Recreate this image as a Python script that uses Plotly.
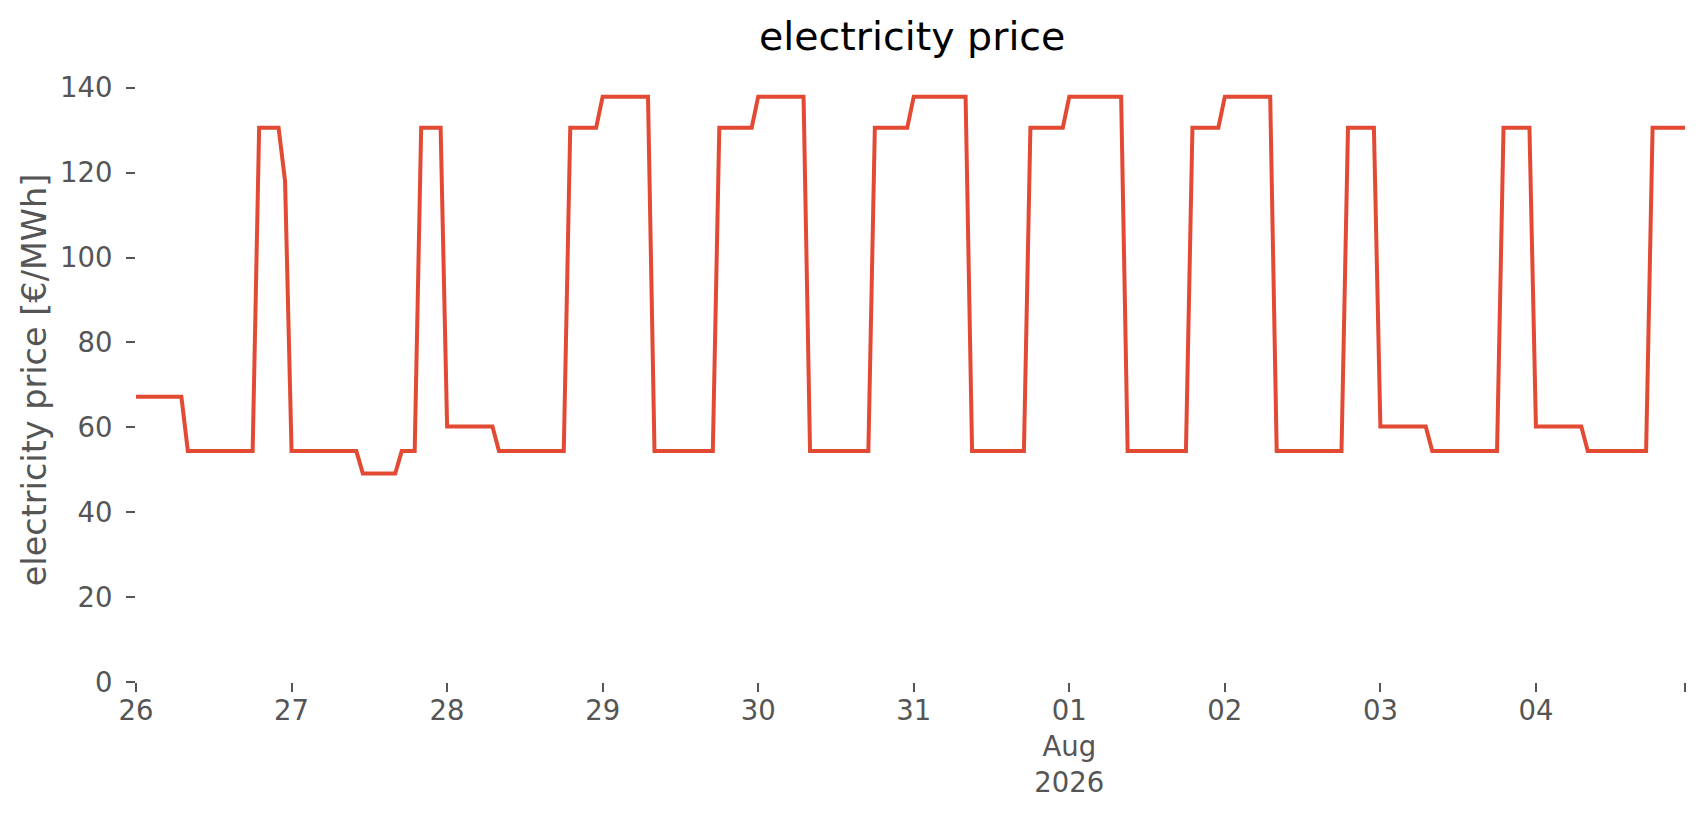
import pandas as pd
import plotly.graph_objects as go

# hourly electricity price [€/MWh], one list per day (hours 0..23)
jul26 = [67.2, 67.2, 67.2, 67.2, 67.2, 67.2, 67.2, 67.2,
         54.4, 54.4, 54.4, 54.4, 54.4, 54.4, 54.4, 54.4, 54.4, 54.4, 54.4,
         130.6, 130.6, 130.6, 130.6, 118.0]
jul27 = [54.4, 54.4, 54.4, 54.4, 54.4, 54.4, 54.4, 54.4, 54.4, 54.4, 54.4,
         49.1, 49.1, 49.1, 49.1, 49.1, 49.1,
         54.4, 54.4, 54.4,
         130.6, 130.6, 130.6, 130.6]
jul28 = [60.2, 60.2, 60.2, 60.2, 60.2, 60.2, 60.2, 60.2,
         54.4, 54.4, 54.4, 54.4, 54.4, 54.4, 54.4, 54.4, 54.4, 54.4, 54.4,
         130.6, 130.6, 130.6, 130.6, 130.6]
jul29 = [137.9, 137.9, 137.9, 137.9, 137.9, 137.9, 137.9, 137.9,
         54.4, 54.4, 54.4, 54.4, 54.4, 54.4, 54.4, 54.4, 54.4, 54.4,
         130.6, 130.6, 130.6, 130.6, 130.6, 130.6]
jul30 = [137.9, 137.9, 137.9, 137.9, 137.9, 137.9, 137.9, 137.9,
         54.4, 54.4, 54.4, 54.4, 54.4, 54.4, 54.4, 54.4, 54.4, 54.4,
         130.6, 130.6, 130.6, 130.6, 130.6, 130.6]
jul31 = [137.9, 137.9, 137.9, 137.9, 137.9, 137.9, 137.9, 137.9, 137.9,
         54.4, 54.4, 54.4, 54.4, 54.4, 54.4, 54.4, 54.4, 54.4,
         130.6, 130.6, 130.6, 130.6, 130.6, 130.6]
aug01 = [137.9, 137.9, 137.9, 137.9, 137.9, 137.9, 137.9, 137.9, 137.9,
         54.4, 54.4, 54.4, 54.4, 54.4, 54.4, 54.4, 54.4, 54.4, 54.4,
         130.6, 130.6, 130.6, 130.6, 130.6]
aug02 = [137.9, 137.9, 137.9, 137.9, 137.9, 137.9, 137.9, 137.9,
         54.4, 54.4, 54.4, 54.4, 54.4, 54.4, 54.4, 54.4, 54.4, 54.4, 54.4,
         130.6, 130.6, 130.6, 130.6, 130.6]
aug03 = [60.2, 60.2, 60.2, 60.2, 60.2, 60.2, 60.2, 60.2,
         54.4, 54.4, 54.4, 54.4, 54.4, 54.4, 54.4, 54.4, 54.4, 54.4, 54.4,
         130.6, 130.6, 130.6, 130.6, 130.6]
aug04 = [60.2, 60.2, 60.2, 60.2, 60.2, 60.2, 60.2, 60.2,
         54.4, 54.4, 54.4, 54.4, 54.4, 54.4, 54.4, 54.4, 54.4, 54.4,
         130.6, 130.6, 130.6, 130.6, 130.6, 130.6]

days = ["2026-07-26", "2026-07-27", "2026-07-28", "2026-07-29", "2026-07-30",
        "2026-07-31", "2026-08-01", "2026-08-02", "2026-08-03", "2026-08-04"]
day_labels = ["26", "27", "28", "29", "30", "31", "01<br>Aug<br>2026", "02", "03", "04"]
y_ticks = [0, 20, 40, 60, 80, 100, 120, 140]

price = jul26 + jul27 + jul28 + jul29 + jul30 + jul31 + aug01 + aug02 + aug03 + aug04
time = pd.date_range(days[0], periods=len(price), freq="h")

tickvals = list(pd.to_datetime(days)) + [time[-1]]
ticktext = day_labels + [""]

fig = go.Figure()
fig.add_trace(go.Scatter(x=time, y=price, mode="lines",
                         line=dict(color="#E24A33", width=4), showlegend=False))

fig.update_layout(
    width=1706, height=815,
    paper_bgcolor="white", plot_bgcolor="white",
    margin=dict(l=128, r=29, t=70, b=141),
    font=dict(family="DejaVu Sans", color="#555555", size=27),
    title=dict(text="electricity price", x=0.530, xanchor="center", y=0.966, yanchor="middle",
               font=dict(size=39.5, color="black", family="DejaVu Sans")),
)
fig.update_xaxes(
    range=[time[0], time[-1]], tickvals=tickvals, ticktext=ticktext,
    showgrid=False, zeroline=False, showline=False,
    ticks="outside", ticklen=9, tickwidth=1.5, tickcolor="#555555",
    tickfont=dict(size=27.5, color="#555555"), ticklabelstandoff=-5,
)
fig.update_yaxes(
    range=[0, 142.3], tickvals=y_ticks,
    showgrid=False, zeroline=False, showline=False,
    ticks="outside", ticklen=9, tickwidth=1.5, tickcolor="#555555",
    tickfont=dict(size=27.5, color="#555555"), ticklabelstandoff=8,
    title=dict(text="electricity price [€/MWh]", font=dict(size=33.5, color="#555555"), standoff=3),
)

fig.write_html("out.html")
